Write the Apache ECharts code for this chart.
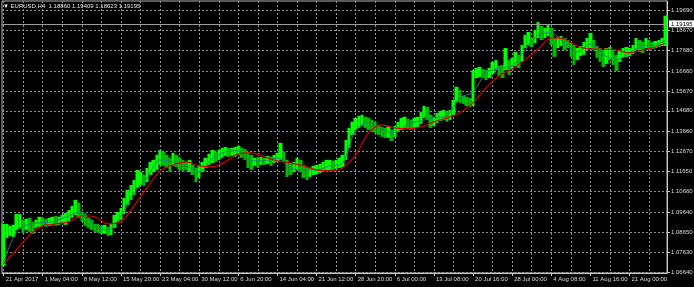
<!DOCTYPE html>
<html><head><meta charset="utf-8">
<script src="https://cdn.jsdelivr.net/npm/echarts@6/dist/echarts.min.js"></script>
<style>html,body{margin:0;padding:0;background:#000;}#c{width:694px;height:287px;}</style>
</head><body><div id="c"></div>
<script>
const symbolTitle = '\u25BC EURUSD,H4  1.18860 1.19409 1.18623 1.19195';
const timeLabels = ['21 Apr 2017','1 May 04:00','8 May 12:00','15 May 20:00','23 May 04:00','30 May 12:00','6 Jun 20:00','14 Jun 04:00','21 Jun 12:00','28 Jun 20:00','6 Jul 00:00','13 Jul 08:00','20 Jul 16:00','28 Jul 00:00','4 Aug 08:00','11 Aug 16:00','21 Aug 00:00'];
const slotsPerLabel = 12;
const priceTicks = [1.06640,1.07630,1.08650,1.09640,1.10660,1.11650,1.12670,1.13660,1.14680,1.15670,1.16660,1.17680,1.18670,1.19690];
const bidPrice = 1.19195;

const highs = [
1.0906,1.0906,1.0896,1.0901,1.0955,1.0955,1.0926,1.0931,1.0936,1.0916,
1.0926,1.0941,1.0936,1.0931,1.0936,1.0941,1.0946,1.0941,1.0950,1.0960,
1.0975,1.0995,1.1025,1.1010,1.0965,1.0955,1.0936,1.0926,1.0906,1.0906,
1.0896,1.0901,1.0891,1.0906,1.0950,1.0965,1.0985,1.1035,1.1075,1.1099,
1.1124,1.1174,1.1164,1.1149,1.1184,1.1214,1.1224,1.1249,1.1273,1.1264,
1.1249,1.1234,1.1259,1.1249,1.1234,1.1224,1.1214,1.1224,1.1199,1.1184,
1.1199,1.1214,1.1234,1.1254,1.1273,1.1264,1.1273,1.1283,1.1288,1.1283,
1.1283,1.1288,1.1293,1.1283,1.1278,1.1264,1.1249,1.1234,1.1239,1.1239,
1.1234,1.1244,1.1239,1.1249,1.1259,1.1308,1.1264,1.1224,1.1209,1.1214,
1.1234,1.1224,1.1199,1.1189,1.1184,1.1194,1.1199,1.1204,1.1214,1.1224,
1.1224,1.1219,1.1224,1.1234,1.1249,1.1323,1.1383,1.1413,1.1433,1.1443,
1.1448,1.1438,1.1433,1.1423,1.1413,1.1398,1.1388,1.1383,1.1393,1.1373,
1.1393,1.1413,1.1433,1.1438,1.1428,1.1423,1.1433,1.1438,1.1462,1.1492,
1.1487,1.1448,1.1438,1.1457,1.1467,1.1472,1.1462,1.1472,1.1522,1.1587,
1.1572,1.1542,1.1537,1.1532,1.1671,1.1681,1.1686,1.1676,1.1671,1.1681,
1.1711,1.1721,1.1691,1.1696,1.1780,1.1721,1.1731,1.1761,1.1746,1.1795,
1.1845,1.1860,1.1830,1.1870,1.1910,1.1890,1.1880,1.1900,1.1880,1.1830,
1.1835,1.1840,1.1830,1.1820,1.1805,1.1795,1.1780,1.1790,1.1810,1.1830,
1.1855,1.1820,1.1790,1.1780,1.1770,1.1780,1.1785,1.1770,1.1746,1.1770,
1.1780,1.1785,1.1780,1.1795,1.1830,1.1820,1.1810,1.1830,1.1820,1.1810,
1.1815,1.1820,1.1830,1.1941];

const lows = [
1.0697,1.0836,1.0846,1.0841,1.0876,1.0886,1.0861,1.0876,1.0866,1.0856,
1.0886,1.0891,1.0896,1.0891,1.0896,1.0901,1.0896,1.0901,1.0911,1.0901,
1.0916,1.0936,1.0950,1.0936,1.0916,1.0896,1.0886,1.0876,1.0866,1.0861,
1.0856,1.0856,1.0846,1.0851,1.0886,1.0916,1.0926,1.0955,1.1000,1.1025,
1.1050,1.1085,1.1099,1.1095,1.1114,1.1149,1.1164,1.1174,1.1199,1.1194,
1.1184,1.1164,1.1194,1.1189,1.1174,1.1164,1.1174,1.1164,1.1149,1.1114,
1.1134,1.1164,1.1184,1.1199,1.1209,1.1214,1.1224,1.1234,1.1244,1.1239,
1.1244,1.1239,1.1249,1.1234,1.1224,1.1184,1.1174,1.1194,1.1184,1.1199,
1.1199,1.1204,1.1194,1.1209,1.1214,1.1224,1.1214,1.1139,1.1149,1.1164,
1.1174,1.1164,1.1134,1.1124,1.1139,1.1149,1.1154,1.1159,1.1164,1.1174,
1.1174,1.1174,1.1179,1.1184,1.1189,1.1224,1.1283,1.1348,1.1373,1.1383,
1.1393,1.1383,1.1373,1.1363,1.1358,1.1348,1.1338,1.1333,1.1333,1.1318,
1.1338,1.1363,1.1373,1.1383,1.1378,1.1373,1.1383,1.1388,1.1403,1.1433,
1.1423,1.1383,1.1393,1.1408,1.1418,1.1423,1.1413,1.1423,1.1448,1.1512,
1.1507,1.1502,1.1492,1.1487,1.1492,1.1631,1.1636,1.1631,1.1621,1.1631,
1.1651,1.1671,1.1641,1.1631,1.1671,1.1646,1.1671,1.1691,1.1681,1.1711,
1.1780,1.1795,1.1785,1.1805,1.1830,1.1820,1.1830,1.1840,1.1795,1.1736,
1.1780,1.1790,1.1770,1.1780,1.1736,1.1696,1.1721,1.1741,1.1746,1.1770,
1.1780,1.1770,1.1731,1.1711,1.1686,1.1701,1.1721,1.1696,1.1666,1.1711,
1.1731,1.1736,1.1741,1.1751,1.1770,1.1761,1.1756,1.1780,1.1770,1.1775,
1.1780,1.1785,1.1790,1.1790];

const maStep = 4;
const maSlow = [
1.0707,1.0777,1.0851,1.0896,1.0906,1.0916,1.0946,1.0941,1.0906,1.0916,
1.0995,1.1085,1.1169,1.1199,1.1214,1.1194,1.1189,1.1214,1.1254,1.1259,
1.1239,1.1219,1.1209,1.1194,1.1174,1.1169,1.1184,1.1249,1.1358,1.1398,
1.1383,1.1378,1.1388,1.1413,1.1433,1.1457,1.1507,1.1582,1.1641,1.1676,
1.1721,1.1775,1.1830,1.1825,1.1790,1.1775,1.1775,1.1770,1.1756,1.1770,
1.1785,1.1805];
const maFast = [
1.0717,1.0866,1.0906,1.0911,1.0921,1.0946,1.0965,1.0896,1.0876,1.0946,
1.1060,1.1134,1.1224,1.1214,1.1194,1.1164,1.1229,1.1264,1.1269,1.1219,
1.1219,1.1234,1.1184,1.1174,1.1174,1.1194,1.1209,1.1373,1.1408,1.1373,
1.1358,1.1403,1.1418,1.1433,1.1443,1.1532,1.1562,1.1656,1.1681,1.1691,
1.1770,1.1845,1.1855,1.1805,1.1761,1.1800,1.1746,1.1721,1.1756,1.1790,
1.1795,1.1820];

const FONT = '"Liberation Sans Narrow","Liberation Sans",Arial,sans-serif';
const N = highs.length;
const candles = highs.map((h, i) => {
  const l = lows[i];
  const mid = (h + l) / 2;
  const prev = i > 0 ? (highs[i - 1] + lows[i - 1]) / 2 : mid - 1;
  return mid >= prev ? [l, h, l, h] : [h, l, l, h];
});
const toLine = arr => arr.map((v, k) => [Math.min(k * maStep, N - 1), v]);

const chart = echarts.init(document.getElementById('c'), null, {renderer: 'canvas'});
chart.setOption({
  backgroundColor: '#000',
  animation: false,
  title: {
    text: symbolTitle, left: 3, top: 3, padding: 0,
    textStyle: {color: '#e6e6e6', fontSize: 6, fontWeight: 'normal', fontFamily: FONT}
  },
  grid: {
    left: 2, right: 27, top: 1, bottom: 14, containLabel: false, outerBoundsMode: 'none',
    show: true, borderColor: '#b4b4b4', borderWidth: 1, backgroundColor: '#000'
  },
  xAxis: {
    type: 'category', data: highs.map((_, i) => String(i)), boundaryGap: true,
    axisLine: {show: true, lineStyle: {color: '#c8c8c8', width: 1}},
    axisTick: {show: true, alignWithLabel: true, length: 3, interval: i => i % slotsPerLabel === 0, lineStyle: {color: '#c8c8c8'}},
    axisLabel: {
      interval: i => i % slotsPerLabel === 0,
      formatter: (v, i) => timeLabels[i / slotsPerLabel] || '',
      align: 'left', color: '#dcdcdc', fontSize: 6, fontFamily: FONT, margin: 3, padding: [0, 0, 0, 2]
    },
    splitLine: {show: true, alignWithLabel: true, interval: i => i % (slotsPerLabel / 2) === 0,
      lineStyle: {color: '#8a929c', type: [2, 2], width: 1}}
  },
  yAxis: {
    type: 'value', position: 'right', min: 1.06615, max: 1.20137, scale: true,
    axisLine: {show: true, lineStyle: {color: '#c8c8c8', width: 1}},
    axisTick: {show: true, length: 3, customValues: priceTicks, lineStyle: {color: '#c8c8c8'}},
    axisLabel: {customValues: priceTicks, formatter: v => v.toFixed(5), color: '#dcdcdc', fontSize: 6, fontFamily: FONT, margin: 4},
    splitLine: {show: true, lineStyle: {color: '#8a929c', type: [2, 2], width: 1}}
  },
  series: [
    {
      type: 'candlestick', data: candles, barWidth: 4, z: 2,
      itemStyle: {color: '#00ff00', color0: '#00bc00', borderColor: '#00ff00', borderColor0: '#00bc00', borderWidth: 0},
      markLine: {
        silent: true, symbol: ['none', 'none'], animation: false,
        lineStyle: {color: '#9c9c9c', type: 'solid', width: 1},
        label: {show: true, position: 'end', distance: 2, formatter: bidPrice.toFixed(5),
          color: '#000', backgroundColor: '#ffffff', padding: [1, 2, 0, 2], fontSize: 6, fontFamily: FONT},
        data: [{yAxis: bidPrice}]
      }
    },
    {type: 'line', data: toLine(maFast), symbol: 'none', smooth: 0.3, z: 3,
      lineStyle: {color: '#1f7f86', width: 1}},
    {type: 'line', data: toLine(maSlow), symbol: 'none', smooth: 0.3, z: 4,
      lineStyle: {color: '#d40000', width: 1.2}}
  ]
});
</script>
</body></html>
